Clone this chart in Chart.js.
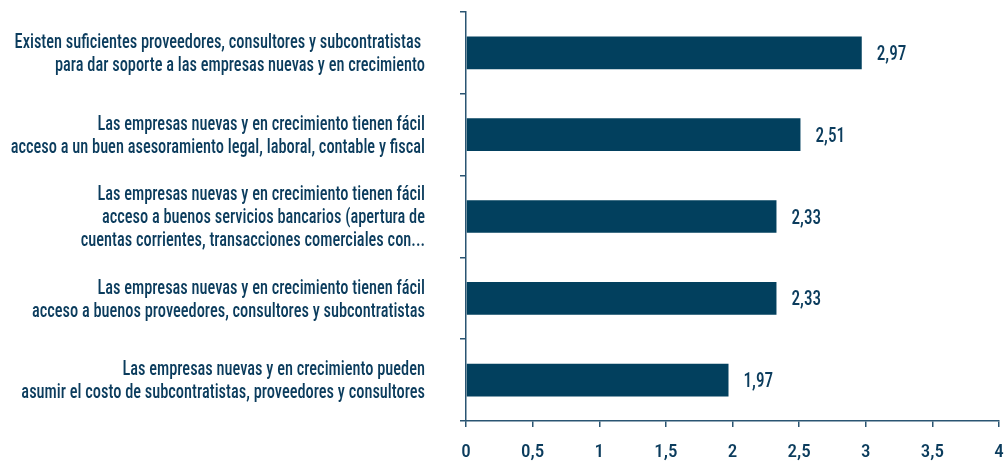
<!DOCTYPE html>
<html>
<head>
<meta charset="utf-8">
<script src="https://cdn.jsdelivr.net/npm/chart.js@4/dist/chart.umd.min.js"></script>
<style>
html,body{margin:0;padding:0;background:#fff;}
#wrap{width:1004px;height:461px;}
</style>
</head>
<body>
<div id="wrap"><canvas id="c" width="1004" height="461"></canvas></div>
<script>
const categories = [
  ["Existen suficientes proveedores, consultores y subcontratistas ", "para dar soporte a las empresas nuevas y en crecimiento"],
  ["Las empresas nuevas y en crecimiento tienen fácil", "acceso a un buen asesoramiento legal, laboral, contable y fiscal"],
  ["Las empresas nuevas y en crecimiento tienen fácil", "acceso a buenos servicios bancarios (apertura de", "cuentas corrientes, transacciones comerciales con..."],
  ["Las empresas nuevas y en crecimiento tienen fácil", "acceso a buenos proveedores, consultores y subcontratistas"],
  ["Las empresas nuevas y en crecimiento pueden", "asumir el costo de subcontratistas, proveedores y consultores"]
];
const values = [2.97, 2.51, 2.33, 2.33, 1.97];
const xTicks = [0, 0.5, 1, 1.5, 2, 2.5, 3, 3.5, 4];

const FONT = "'Roboto Condensed', 'DejaVu Sans Condensed', sans-serif";
const TEXT = '#0b3c5d';
const BAR = '#02405e';
const AXIS = '#2a5572';
const SQUEEZE = 0.84;

const fmt = v => String(v).replace('.', ',');

// Horizontally condense the y-axis labels (drawn by Chart.js itself) around their right edge
const condenseLabels = {
  id: 'condenseLabels',
  beforeDraw(chart) {
    const sc = chart.scales.y;
    if (!sc || sc._condensed) return;
    const orig = sc.drawLabels.bind(sc);
    sc._computeLabelArea = function () { return undefined; };
    sc.drawLabels = function (area) {
      const ctx = this.ctx;
      const xr = this.right - this.options.grid.tickLength - this.options.ticks.padding;
      ctx.save();
      ctx.translate(xr, 0);
      ctx.scale(SQUEEZE, 1);
      ctx.translate(-xr, 0);
      orig(area);
      ctx.restore();
    };
    sc._condensed = true;
  }
};

const valueLabels = {
  id: 'valueLabels',
  afterDatasetsDraw(chart) {
    const ctx = chart.ctx;
    const meta = chart.getDatasetMeta(0);
    ctx.save();
    ctx.font = '500 20px ' + FONT;
    ctx.fillStyle = TEXT;
    ctx.textAlign = 'left';
    ctx.textBaseline = 'alphabetic';
    meta.data.forEach((bar, i) => {
      const x0 = bar.x + 15;
      ctx.save();
      ctx.translate(x0, 0);
      ctx.scale(0.86, 1);
      ctx.fillText(fmt(values[i].toFixed(2)), 0, bar.y + 7);
      ctx.restore();
    });
    ctx.restore();
  }
};

new Chart(document.getElementById('c'), {
  type: 'bar',
  data: {
    labels: categories,
    datasets: [{
      data: values,
      backgroundColor: BAR,
      borderWidth: 0,
      categoryPercentage: 1,
      barPercentage: 0.4
    }]
  },
  options: {
    indexAxis: 'y',
    responsive: false,
    animation: false,
    devicePixelRatio: 1,
    layout: { padding: { left: 0, top: 12, right: 5, bottom: 0 } },
    plugins: {
      legend: { display: false },
      tooltip: { enabled: false }
    },
    scales: {
      x: {
        min: 0, max: 4,
        afterBuildTicks(scale) { scale.ticks = xTicks.map(v => ({ value: v })); },
        afterFit(scale) { scale.height = 40; scale.paddingLeft = 0; scale.paddingRight = 0; },
        border: { display: true, color: AXIS, width: 1.5 },
        grid: { drawOnChartArea: false, drawTicks: true, tickLength: 6, color: AXIS, lineWidth: 1.5 },
        ticks: {
          padding: 14,
          color: TEXT,
          font: { family: FONT, size: 19, weight: '500' },
          maxRotation: 0,
          callback: v => fmt(v)
        }
      },
      y: {
        afterFit(scale) { scale.width = 466; scale.paddingTop = 0; scale.paddingBottom = 0; },
        border: { display: true, color: AXIS, width: 1.5 },
        grid: { drawOnChartArea: false, drawTicks: true, tickLength: 6, color: AXIS, lineWidth: 1.5, offset: true },
        ticks: {
          padding: 35,
          labelOffset: 2,
          color: TEXT,
          font: { family: FONT, size: 19.5, weight: '500', lineHeight: 1.18 }
        }
      }
    }
  },
  plugins: [condenseLabels, valueLabels]
});
</script>
</body>
</html>
